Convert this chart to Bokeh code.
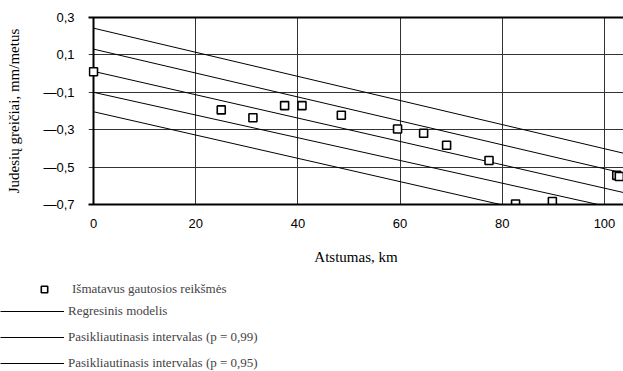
from bokeh.plotting import figure
from bokeh.layouts import column
from bokeh.models import (LinearAxis, Range1d, FixedTicker, Grid, Legend, LegendItem,
                          CustomJSTickFormatter, ColumnDataSource)
from bokeh.embed import file_html
from bokeh.resources import INLINE

# ---- data ----
dist_km = [0.0, 25.0, 31.2, 37.4, 40.8, 48.5, 59.5, 64.6, 69.1, 77.4, 82.6, 89.8, 102.4, 102.9]
velocity = [0.01, -0.194, -0.236, -0.171, -0.171, -0.223, -0.296, -0.319, -0.383, -0.465,
            -0.697, -0.684, -0.544, -0.550]

line_x = [0.0, 105.0]
upper99 = [0.243, -0.434]
upper95 = [0.131, -0.541]
regression = [0.012, -0.644]
lower95 = [-0.100, -0.738]
lower99 = [-0.204, -0.858]

x_ticks = [0, 20, 40, 60, 80, 100]
y_ticks = [0.3, 0.1, -0.1, -0.3, -0.5, -0.7]
x_grid = [20, 40, 60, 80, 100]
y_grid = [0.1, -0.1, -0.3, -0.5]
y_axis_at = [0]

lbl_points = "Išmatavus gautosios reikšmės"
lbl_reg = "Regresinis modelis"
lbl_99 = "Pasikliautinasis intervalas (p = 0,99)"
lbl_95 = "Pasikliautinasis intervalas (p = 0,95)"
x_title = "Atstumas, km"
y_title = "Judesių greičiai, mm/metus"

SANS = "Liberation Sans"
SERIF = "Liberation Serif"

p = figure(width=623, height=270, x_range=Range1d(-0.98, 103.72), y_range=Range1d(-0.7, 0.3),
           x_axis_location=None, y_axis_location=None,
           toolbar_location=None, output_backend="svg",
           min_border_left=88, min_border_right=0, min_border_top=17, min_border_bottom=66)
p.outline_line_color = None
p.background_fill_color = "white"
p.border_fill_color = "white"
p.center = []

# grids
p.add_layout(Grid(dimension=0, ticker=FixedTicker(ticks=x_grid), grid_line_color="#333333",
                  grid_line_width=1))
p.add_layout(Grid(dimension=1, ticker=FixedTicker(ticks=y_grid), grid_line_color="#333333",
                  grid_line_width=1))
p.add_layout(Grid(dimension=0, ticker=FixedTicker(ticks=y_axis_at), grid_line_color="black",
                  grid_line_width=2))

# x axis
xax = LinearAxis(ticker=FixedTicker(ticks=x_ticks), axis_line_width=2, axis_line_color="black",
                 major_tick_in=0, major_tick_out=0, minor_tick_in=0, minor_tick_out=0,
                 major_label_standoff=14, major_label_text_font=SANS,
                 major_label_text_font_size="13px", major_label_text_color="black",
                 axis_label=x_title, axis_label_standoff=18, axis_label_text_font=SERIF,
                 axis_label_text_font_size="15px", axis_label_text_font_style="normal",
                 axis_label_text_color="black")
p.add_layout(xax, "below")

# y axis (labels only; the axis line itself is drawn at x = 0)
fmt = CustomJSTickFormatter(code="""
const s = Math.abs(tick).toFixed(1).replace('.', ',');
return (tick < 0 ? '\u2014' : '') + s;
""")
yax = LinearAxis(ticker=FixedTicker(ticks=y_ticks), formatter=fmt, axis_line_color=None,
                 major_tick_in=0, major_tick_out=0, minor_tick_in=0, minor_tick_out=0,
                 major_label_standoff=14, major_label_text_font=SANS,
                 major_label_text_font_size="13px", major_label_text_color="black",
                 axis_label=y_title, axis_label_standoff=18, axis_label_text_font=SERIF,
                 axis_label_text_font_size="15px", axis_label_text_font_style="normal",
                 axis_label_text_color="black")
p.add_layout(yax, "left")

# top border
top = LinearAxis(ticker=FixedTicker(ticks=[]), axis_line_width=2, axis_line_color="black",
                 major_tick_in=0, major_tick_out=0, minor_tick_in=0, minor_tick_out=0,
                 major_label_standoff=0, major_label_text_font_size="0px")
p.add_layout(top, "above")

# lines
r_u99 = p.line(line_x, upper99, line_color="black", line_width=1)
r_u95 = p.line(line_x, upper95, line_color="black", line_width=1)
r_reg = p.line(line_x, regression, line_color="black", line_width=1)
r_l95 = p.line(line_x, lower95, line_color="black", line_width=1)
r_l99 = p.line(line_x, lower99, line_color="black", line_width=1)

# points
src = ColumnDataSource(dict(x=dist_km, y=velocity))
r_pts = p.scatter("x", "y", source=src, marker="square", size=8, fill_color="white",
                  line_color="black", line_width=1.6)

# legend panel (separate canvas below the chart; its view range lies away from the data,
# so only the legend itself is visible there)
q = figure(width=623, height=101, x_range=Range1d(1000, 1001), y_range=Range1d(1000, 1001),
           toolbar_location=None, output_backend="svg",
           x_axis_location=None, y_axis_location=None,
           min_border_left=0, min_border_right=0, min_border_top=0, min_border_bottom=0)
q.outline_line_color = None
q.center = []
for fig in (p, q):
    if "frame_align" in fig.properties():
        fig.frame_align = False
k_pts = q.scatter("x", "y", source=src, marker="square", size=8, fill_color="white",
                  line_color="black", line_width=1.6)
k_reg = q.line(line_x, regression, line_color="black", line_width=1)
k_99 = q.line(line_x, upper99, line_color="black", line_width=1)
k_95 = q.line(line_x, upper95, line_color="black", line_width=1)

leg1 = Legend(items=[LegendItem(label=lbl_points, renderers=[k_pts])],
              location=(16, 74), glyph_width=56, glyph_height=16, label_height=16,
              label_standoff=0, padding=0, margin=0, spacing=0, border_line_color=None,
              background_fill_alpha=0, label_text_font=SERIF, label_text_font_size="13px")
leg2 = Legend(items=[LegendItem(label=lbl_reg, renderers=[k_reg]),
                     LegendItem(label=lbl_99, renderers=[k_99]),
                     LegendItem(label=lbl_95, renderers=[k_95])],
              location=(0, 0), glyph_width=64, glyph_height=16, label_height=16,
              label_standoff=4, padding=0, margin=0, spacing=10, border_line_color=None,
              background_fill_alpha=0, label_text_font=SERIF, label_text_font_size="13px")
q.add_layout(leg1)
q.add_layout(leg2)

layout = column(p, q, spacing=0)
open("out.html", "w").write(file_html(layout, INLINE))
